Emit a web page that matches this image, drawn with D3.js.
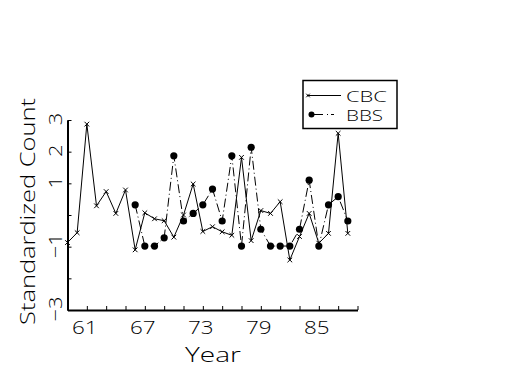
<!DOCTYPE html>
<html>
<head>
<meta charset="utf-8">
<script src="https://cdn.jsdelivr.net/npm/d3@7"></script>
<style>
  body { margin: 0; background: white; }
  text { font-family: "Open Sans", "Liberation Sans", sans-serif; font-weight: 300; fill: black; }
</style>
</head>
<body>
<script>
const cbcYears = [59, 60, 61, 62, 63, 64, 65, 66, 67, 68, 69, 70, 71, 72, 73, 74, 75, 76, 77, 78, 79, 80, 81, 82, 83, 84, 85, 86, 87, 88];
const cbcValues = [-0.87, -0.56, 2.87, 0.29, 0.74, 0.05, 0.79, -1.1, 0.07, -0.12, -0.18, -0.7, 0, 0.98, -0.52, -0.37, -0.53, -0.64, 1.82, -0.81, 0.14, 0.05, 0.42, -1.42, -0.68, 0.05, -0.89, -0.58, 2.58, -0.58];
const bbsYears = [66, 67, 68, 69, 70, 71, 72, 73, 74, 75, 76, 77, 78, 79, 80, 81, 82, 83, 84, 85, 86, 87, 88];
const bbsValues = [0.32, -0.98, -0.98, -0.72, 1.87, -0.19, 0.05, 0.32, 0.82, -0.19, 1.87, -0.98, 2.14, -0.45, -0.98, -0.98, -0.98, -0.45, 1.1, -0.98, 0.32, 0.58, -0.19];
const xTicks = [59, 61, 63, 65, 67, 69, 71, 73, 75, 77, 79, 81, 83, 85, 87, 89];
const xLabels = [61, 67, 73, 79, 85];
const yTicks = [-3, -2, -1, 0, 1, 2, 3];
const yLabels = [3, 2, 1, -1, -3];

const cbc = cbcYears.map((yr, i) => ({ year: yr, value: cbcValues[i] }));
const bbs = bbsYears.map((yr, i) => ({ year: yr, value: bbsValues[i] }));

const W = 525, H = 375;
const svg = d3.select("body").append("svg")
    .attr("width", W)
    .attr("height", H)
    .attr("xmlns", "http://www.w3.org/2000/svg");

const x = d3.scaleLinear().domain([59, 89]).range([67.5, 357.5]);
const y = d3.scaleLinear().domain([-3, 3]).range([310, 120]);

// stretch a text horizontally (in its own frame) to a given width
function stretch(sel, pre, target) {
    const w = sel.node().getComputedTextLength();
    sel.attr("transform", pre + " scale(" + (target / w) + ",1)");
}

// axes: ticks point inward, labels drawn by hand
const xAxis = svg.append("g")
    .attr("transform", "translate(0,310)")
    .call(d3.axisBottom(x).tickValues(xTicks).tickSize(-4).tickSizeOuter(0).tickFormat(""));
xAxis.select(".domain").attr("stroke-width", 2);

const yAxis = svg.append("g")
    .attr("transform", "translate(67.5,0)")
    .call(d3.axisLeft(y).tickValues(yTicks).tickSize(-4).tickSizeOuter(0).tickFormat(""));
yAxis.select(".domain").attr("stroke-width", 2);

svg.selectAll(".xlab")
    .data(xLabels)
    .join("text")
    .attr("class", "xlab")
    .attr("text-anchor", "middle")
    .attr("font-size", 19)
    .attr("transform", d => "translate(" + (x(d) - 2) + ",334) scale(1.18,1)")
    .text(d => d);

svg.selectAll(".ylab")
    .data(yLabels)
    .join("text")
    .attr("class", "ylab")
    .attr("transform", d => "translate(62," + (y(d) - 1) + ") rotate(-90) scale(1.15,1)")
    .attr("text-anchor", "middle")
    .attr("font-size", 19)
    .text(d => d < 0 ? "\u2212" + Math.abs(d) : d);

const xTitle = svg.append("text")
    .attr("text-anchor", "middle")
    .attr("font-size", 21)
    .text("Year");
stretch(xTitle, "translate(213,362)", 56);

const yTitle = svg.append("text")
    .attr("text-anchor", "middle")
    .attr("font-size", 21)
    .text("Standardized Count");
stretch(yTitle, "translate(35,211.5) rotate(-90)", 227);

// series
const line = d3.line()
    .x(d => x(d.year))
    .y(d => y(d.value));

svg.append("path")
    .datum(cbc)
    .attr("fill", "none")
    .attr("stroke", "black")
    .attr("stroke-width", 1)
    .attr("d", line);

svg.append("path")
    .datum(bbs)
    .attr("fill", "none")
    .attr("stroke", "black")
    .attr("stroke-width", 1)
    .attr("stroke-dasharray", "9,3,1,3")
    .attr("d", line);

const xMark = d3.symbol(d3.symbolX, 16);
svg.selectAll(".cbcpt")
    .data(cbc)
    .join("path")
    .attr("class", "cbcpt")
    .attr("transform", d => "translate(" + x(d.year) + "," + y(d.value) + ")")
    .attr("d", xMark)
    .attr("fill", "none")
    .attr("stroke", "black")
    .attr("stroke-width", 1);

svg.selectAll(".bbspt")
    .data(bbs)
    .join("circle")
    .attr("class", "bbspt")
    .attr("cx", d => x(d.year))
    .attr("cy", d => y(d.value))
    .attr("r", 3.6)
    .attr("fill", "black");

// legend
const lg = svg.append("g");
lg.append("rect")
    .attr("x", 303).attr("y", 80.5)
    .attr("width", 94).attr("height", 48)
    .attr("fill", "white")
    .attr("stroke", "black")
    .attr("stroke-width", 1.5);
lg.append("line")
    .attr("x1", 307).attr("x2", 341).attr("y1", 95.5).attr("y2", 95.5)
    .attr("stroke", "black");
lg.append("path")
    .attr("transform", "translate(308,95.5)")
    .attr("d", d3.symbol(d3.symbolX, 10))
    .attr("fill", "none").attr("stroke", "black");
lg.append("line")
    .attr("x1", 312).attr("x2", 334).attr("y1", 114.5).attr("y2", 114.5)
    .attr("stroke", "black")
    .attr("stroke-dasharray", "11,4,1,3");
lg.append("circle")
    .attr("cx", 311.5).attr("cy", 114.5).attr("r", 3)
    .attr("fill", "black");
const tCBC = lg.append("text")
    .attr("font-size", 15)
    .text("CBC");
stretch(tCBC, "translate(346,101.5)", 41);
const tBBS = lg.append("text")
    .attr("font-size", 15)
    .text("BBS");
stretch(tBBS, "translate(346,121)", 37);
</script>
</body>
</html>
